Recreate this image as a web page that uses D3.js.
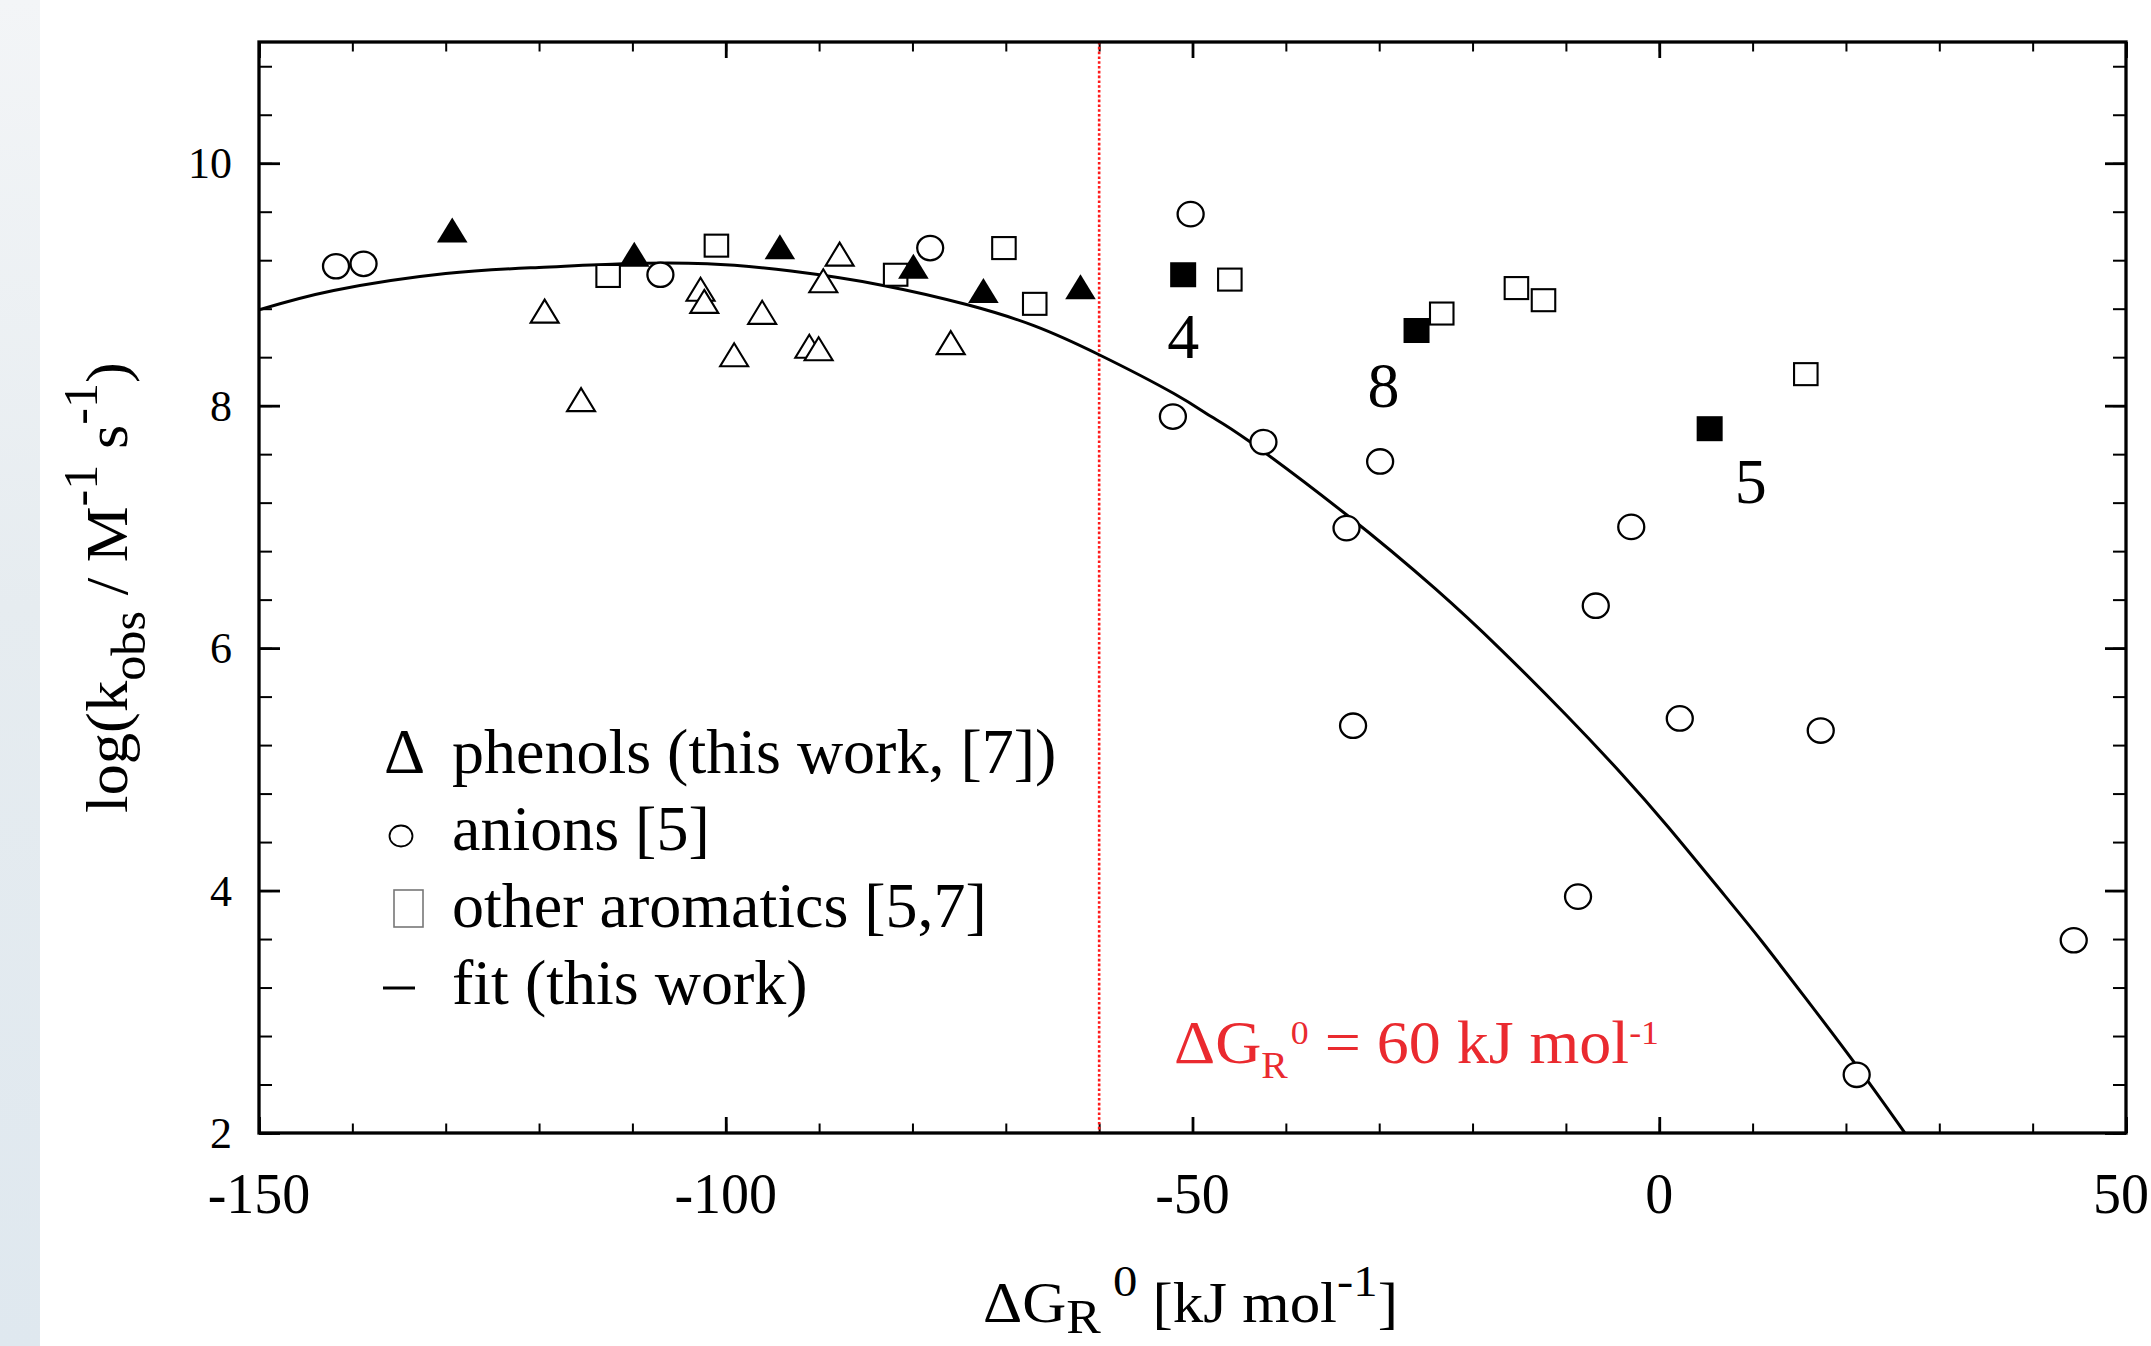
<!DOCTYPE html>
<html><head><meta charset="utf-8">
<script src="https://cdn.jsdelivr.net/npm/d3@7"></script>
<style>html,body{margin:0;padding:0;background:#fff;overflow:hidden}svg{display:block}</style>
</head><body>
<svg id="chart" width="2151" height="1346"></svg>
<script>
// ---------------- data ----------------
const xTickValues = [-150, -100, -50, 0, 50];
const xTickLabels = ["-150", "-100", "-50", "0", "50"];
const yTickValues = [2, 4, 6, 8, 10];
const yTickLabels = ["2", "4", "6", "8", "10"];

// filled triangles: phenols (this work)
const phenolsThisWork = [[-129.3, 9.45], [-109.8, 9.25], [-94.2, 9.31], [-79.9, 9.15], [-72.4, 8.95], [-62.0, 8.98]];
// open triangles: phenols [7]
const phenolsLiterature = [[-119.4, 8.78], [-115.5, 8.05], [-102.7, 8.96], [-102.3, 8.86], [-99.1, 8.42], [-96.1, 8.77],
  [-91.05, 8.49], [-90.05, 8.47], [-89.55, 9.03], [-87.8, 9.25], [-75.9, 8.52]];
// open circles: anions [5]
const anions = [[-141.75, 9.15], [-138.8, 9.17], [-107.0, 9.08], [-78.1, 9.30], [-50.2, 9.58], [-52.1, 7.91], [-42.4, 7.70],
  [-29.9, 7.54], [-33.5, 6.99], [-32.8, 5.36], [-3.0, 7.00], [-6.8, 6.35], [2.2, 5.42], [17.3, 5.32], [-8.7, 3.95],
  [44.4, 3.59], [21.15, 2.48]];
// open squares: other aromatics [5,7]
const otherAromatics = [[-112.6, 9.07], [-101.0, 9.32], [-81.8, 9.08], [-70.2, 9.30], [-66.9, 8.84], [-46.0, 9.04],
  [-23.3, 8.76], [-15.3, 8.97], [-12.4, 8.87], [15.7, 8.26]];
// filled squares with compound numbers
const labelledAromatics = [[-51.0, 9.08], [-26.0, 8.62], [5.4, 7.81]];
const labelledNames = ["4", "8", "5"];

// fit curve
const fitX = [-150, -142, -130, -120, -111, -102, -93, -83, -74, -67, -60, -52, -48, -44, -33.5, -24, -17, -10, -4, 1, 7, 11, 16, 21, 25.4, 26.4];
const fitY = [8.79, 8.95, 9.09, 9.14, 9.17, 9.17, 9.11, 8.99, 8.83, 8.66, 8.42, 8.10, 7.91, 7.71, 7.10, 6.49, 5.99, 5.45, 4.96, 4.52, 3.96, 3.58, 3.08, 2.57, 2.10, 1.99];

const refLineX = -60;
const legendLabels = ["phenols (this work, [7])", "anions [5]", "other aromatics [5,7]", "fit (this work)"];

// ---------------- layout ----------------
const serif = "'Liberation Serif','Times New Roman',Times,serif";
const M = {left: 259, right: 2126, top: 42, bottom: 1133};
const svg = d3.select("#chart");

const x = d3.scaleLinear().domain([-150, 50]).range([M.left, M.right]);
const y = d3.scaleLinear().domain([2, 11]).range([M.bottom, M.top]);

// left background strip
const defs = svg.append("defs");
const grad = defs.append("linearGradient").attr("id", "strip").attr("x1", 0).attr("y1", 0).attr("x2", 0).attr("y2", 1);
grad.append("stop").attr("offset", "0%").attr("stop-color", "#f3f5f7");
grad.append("stop").attr("offset", "45%").attr("stop-color", "#e6ecf0");
grad.append("stop").attr("offset", "100%").attr("stop-color", "#dfe8ef");
svg.append("rect").attr("x", 0).attr("y", 0).attr("width", 40).attr("height", 1346).attr("fill", "url(#strip)");

defs.append("clipPath").attr("id", "plotclip").append("rect")
  .attr("x", M.left).attr("y", M.top).attr("width", M.right - M.left).attr("height", M.bottom - M.top);

// ---------------- ticks ----------------
const minorX = d3.range(-150, 50.1, 10);
const minorY = d3.range(2, 11.01, 0.4).map(v => +v.toFixed(2));
function tickGroup(axis, tr, major) {
  const g = svg.append("g").attr("transform", tr).call(axis);
  g.select(".domain").remove();
  g.selectAll(".tick line").attr("stroke", "#000").attr("stroke-width", major ? 2.8 : 2);
  g.selectAll(".tick text").remove();
}
tickGroup(d3.axisBottom(x).tickValues(minorX).tickSize(-9.5).tickFormat(""), `translate(0,${M.bottom})`, false);
tickGroup(d3.axisBottom(x).tickValues(xTickValues).tickSize(-16).tickFormat(""), `translate(0,${M.bottom})`, true);
tickGroup(d3.axisTop(x).tickValues(minorX).tickSize(-9.5).tickFormat(""), `translate(0,${M.top})`, false);
tickGroup(d3.axisTop(x).tickValues(xTickValues).tickSize(-16).tickFormat(""), `translate(0,${M.top})`, true);
tickGroup(d3.axisLeft(y).tickValues(minorY).tickSize(-13).tickFormat(""), `translate(${M.left},0)`, false);
tickGroup(d3.axisLeft(y).tickValues(yTickValues).tickSize(-21).tickFormat(""), `translate(${M.left},0)`, true);
tickGroup(d3.axisRight(y).tickValues(minorY).tickSize(-13).tickFormat(""), `translate(${M.right},0)`, false);
tickGroup(d3.axisRight(y).tickValues(yTickValues).tickSize(-21).tickFormat(""), `translate(${M.right},0)`, true);

// tick labels (last x label nudged so it stays inside the page)
svg.append("g").selectAll("text").data(xTickValues).join("text")
  .attr("x", (d, i) => x(d) - (i === xTickValues.length - 1 ? 5 : 0)).attr("y", 1213).attr("text-anchor", "middle")
  .attr("font-family", serif).attr("font-size", 56).attr("fill", "#000")
  .text((d, i) => xTickLabels[i]);
svg.append("g").selectAll("text").data(yTickValues).join("text")
  .attr("x", 232).attr("y", d => y(d) + 15).attr("text-anchor", "end")
  .attr("font-family", serif).attr("font-size", 44).attr("fill", "#000")
  .text((d, i) => yTickLabels[i]);

// ---------------- plot content ----------------
const plot = svg.append("g").attr("clip-path", "url(#plotclip)");

// reference line
plot.append("line").attr("x1", x(refLineX)).attr("x2", x(refLineX)).attr("y1", y(11)).attr("y2", y(2))
  .attr("stroke", "#ff1a1a").attr("stroke-width", 2.6).attr("stroke-dasharray", "2.6,2.2");

// fit curve
const fitData = fitX.map((v, i) => [v, fitY[i]]);
plot.append("path").datum(fitData)
  .attr("d", d3.line().x(d => x(d[0])).y(d => y(d[1])).curve(d3.curveNatural))
  .attr("fill", "none").attr("stroke", "#000").attr("stroke-width", 3);

// markers
const triOpen = "M0,-11.5L14,11.5L-14,11.5Z";
const triFilled = "M0,-12.5L15.3,12.5L-15.3,12.5Z";

plot.append("g").selectAll("rect").data(otherAromatics).join("rect")
  .attr("x", d => x(d[0]) - 11.75).attr("y", d => y(d[1]) - 11).attr("width", 23.5).attr("height", 22)
  .attr("fill", "#fff").attr("stroke", "#000").attr("stroke-width", 2.1);
plot.append("g").selectAll("rect").data(labelledAromatics).join("rect")
  .attr("x", d => x(d[0]) - 13).attr("y", d => y(d[1]) - 12.5).attr("width", 26).attr("height", 25)
  .attr("fill", "#000");
plot.append("g").selectAll("path").data(phenolsLiterature).join("path")
  .attr("transform", d => `translate(${x(d[0])},${y(d[1])})`).attr("d", triOpen)
  .attr("fill", "#fff").attr("stroke", "#000").attr("stroke-width", 2.1).attr("stroke-linejoin", "miter");
plot.append("g").selectAll("path").data(phenolsThisWork).join("path")
  .attr("transform", d => `translate(${x(d[0])},${y(d[1])})`).attr("d", triFilled)
  .attr("fill", "#000");
plot.append("g").selectAll("ellipse").data(anions).join("ellipse")
  .attr("cx", d => x(d[0])).attr("cy", d => y(d[1])).attr("rx", 13).attr("ry", 12.2)
  .attr("fill", "#fff").attr("stroke", "#000").attr("stroke-width", 2.3);

// compound numbers beside filled squares
const nameOffsets = [[0, 83], [-33, 76], [41, 74]];
svg.append("g").selectAll("text").data(labelledAromatics).join("text")
  .attr("x", (d, i) => x(d[0]) + nameOffsets[i][0]).attr("y", (d, i) => y(d[1]) + nameOffsets[i][1])
  .attr("text-anchor", "middle").attr("font-family", serif).attr("font-size", 64).attr("fill", "#000")
  .text((d, i) => labelledNames[i]);

// frame
svg.append("rect").attr("x", M.left).attr("y", M.top).attr("width", M.right - M.left).attr("height", M.bottom - M.top)
  .attr("fill", "none").attr("stroke", "#000").attr("stroke-width", 3.3);

// ---------------- rich text helper ----------------
function rich(parent, parts, size, fill) {
  const t = parent.append("text").attr("x", 0).attr("y", 0)
    .attr("font-family", serif).attr("font-size", size).attr("fill", fill || "#000")
    .attr("xml:space", "preserve").style("white-space", "pre");
  let cur = 0;
  parts.forEach(p => {
    const sh = p.shift || 0;
    t.append("tspan").attr("dy", sh - cur).attr("font-size", size * (p.scale || 1)).text(p.text);
    cur = sh;
  });
  return t;
}
function fitHorizontal(t, x0, x1, baseline) {
  const bb = t.node().getBBox();
  const s = (x1 - x0) / bb.width;
  t.attr("transform", `translate(${x0},${baseline}) scale(${s},1) translate(${-bb.x},0)`);
}

// x-axis title
const xTitle = rich(svg, [
  {text: "\u0394G"}, {text: "R", scale: 0.85, shift: 11}, {text: " 0", scale: 0.8, shift: -26},
  {text: " [kJ mol"}, {text: "-1", scale: 0.8, shift: -26}, {text: "]"}
], 56);
fitHorizontal(xTitle, 983, 1398, 1322);

// y-axis title (rotated)
const yTitle = rich(svg, [
  {text: "log(k"}, {text: "obs", scale: 0.8, shift: 18}, {text: " / M"}, {text: "-1", scale: 0.8, shift: -30},
  {text: " s"}, {text: "-1", scale: 0.8, shift: -30}, {text: ")"}
], 60);
{
  const bb = yTitle.node().getBBox();
  const s = (813 - 362) / bb.width;
  yTitle.attr("transform", `translate(127,813) rotate(-90) scale(${s},1) translate(${-bb.x},0)`);
}

// red annotation
const redText = rich(svg, [
  {text: "\u0394G"}, {text: "R", scale: 0.62, shift: 15}, {text: "\u200A0", scale: 0.56, shift: -19},
  {text: " = 60 kJ mol"}, {text: "-1", scale: 0.56, shift: -19}
], 61, "#ea2a2f");
fitHorizontal(redText, 1174, 1659, 1063);

// ---------------- legend ----------------
const legend = svg.append("g");
const legendBaselines = [773, 850, 927, 1004];
legend.selectAll("text.lab").data(legendLabels).join("text").attr("class", "lab")
  .attr("x", 452).attr("y", (d, i) => legendBaselines[i])
  .attr("font-family", serif).attr("font-size", 64).attr("fill", "#000")
  .text(d => d);
legend.append("text").attr("x", 384).attr("y", legendBaselines[0])
  .attr("font-family", serif).attr("font-size", 64).attr("fill", "#000").text("\u0394");
legend.append("ellipse").attr("cx", 401).attr("cy", 836).attr("rx", 11.5).attr("ry", 10.5)
  .attr("fill", "none").attr("stroke", "#000").attr("stroke-width", 1.8);
legend.append("rect").attr("x", 394).attr("y", 890).attr("width", 29).attr("height", 37)
  .attr("fill", "none").attr("stroke", "#777").attr("stroke-width", 1.6);
legend.append("line").attr("x1", 383).attr("x2", 415).attr("y1", 988).attr("y2", 988)
  .attr("stroke", "#000").attr("stroke-width", 3);
</script>
</body></html>
